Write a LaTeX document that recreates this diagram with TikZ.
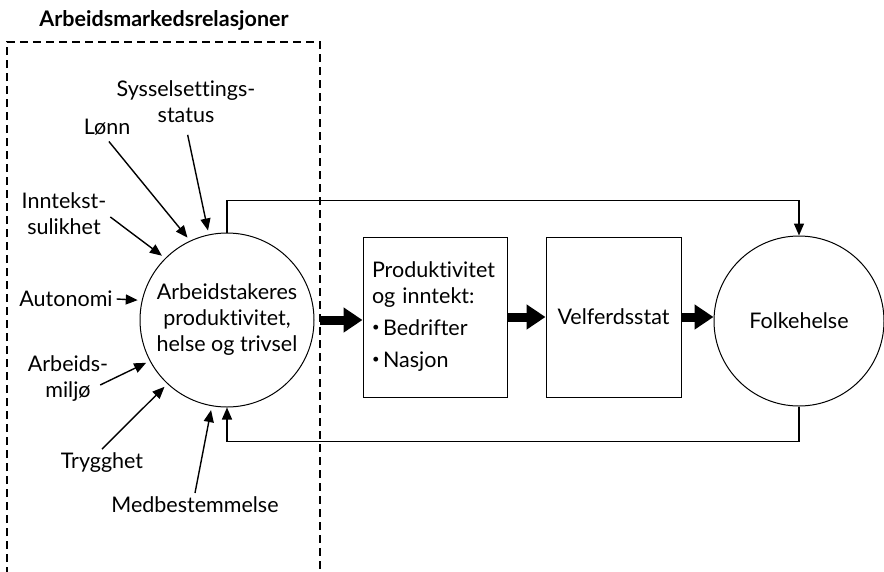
\documentclass[tikz,border=0pt]{standalone}
\usepackage{fontspec}
\setmainfont{Lato}[Ligatures=NoCommon]
\usetikzlibrary{arrows.meta}
\newcommand{\smallbullet}{\raisebox{4pt}{\fontsize{13}{13}\selectfont\textbullet}\,}

\begin{document}
\begin{tikzpicture}[x=1pt, y=-1pt, line width=1.4pt,
	every node/.style={font=\fontsize{21.5}{26}\selectfont, align=center},
	inArrow/.style={-{Triangle[length=12pt,width=10pt]}, shorten >=4pt},
	fatArrow/.style={line width=9pt, -{Triangle[length=19pt,width=24pt]}}]
	\useasboundingbox (0,0) rectangle (884,571);
	\node[font=\fontsize{21.5}{26}\selectfont\bfseries] (titleText) at (164,20) {Arbeidsmarkedsrelasjoner};
	\draw[dash pattern=on 8pt off 5pt] (7,575) |- (320,42) -- (320,575);
	\node[draw, circle, line width=1pt, minimum size=174pt, inner sep=0] (worker) at (227,320) {Arbeidstakeres\\produktivitet,\\helse og trivsel};
	\node[draw, line width=1pt, minimum height=160pt, text width=126pt, inner xsep=9pt, align=left] (prodBox) at (435,317) {Produktivitet\\og inntekt:\\[6pt]\smallbullet Bedrifter\\[6pt]\smallbullet Nasjon};
	\node[draw, line width=1pt, minimum width=135pt, minimum height=160pt] (welfareBox) at (613.5,317) {Velferdsstat};
	\node[draw, circle, line width=1pt, minimum size=170pt, inner sep=0] (publicHealth) at (799,321) {Folkehelse};
	% what goes into the worker circle
	\node (sysLabel) at (186,102) {Sysselsettings-\\status};
	\node (lonnLabel) at (107,127) {Lønn};
	\node (incomeLabel) at (64,214) {Inntekst-\\sulikhet};
	\node (autoLabel) at (66,299) {Autonomi};
	\node (envLabel) at (68,379) {Arbeids-\\miljø};
	\node (safeLabel) at (102,463) {Trygghet};
	\node (codetLabel) at (195,505) {Medbestemmelse};
	\draw[inArrow, shorten <=8pt] (sysLabel.south) -- (worker.102);
	\draw[inArrow, shorten <=3pt] (lonnLabel.south) -- (worker.115);
	\draw[inArrow] ([yshift=-3pt]incomeLabel.east) -- (worker.135);
	\draw[inArrow] (autoLabel.east) -- (worker.167);
	\draw[inArrow] ([xshift=-12pt,yshift=-6pt]envLabel.east) -- (worker.208);
	\draw[inArrow] (safeLabel.north) -- (worker.227);
	\draw[inArrow] (codetLabel.north) -- (worker.260);
	% main chain
	\draw[fatArrow, shorten <=5pt] (worker.east) -- (worker.east -| prodBox.west);
	\draw[fatArrow] (prodBox.east) -- (welfareBox.west);
	\draw[fatArrow] (welfareBox.east) -- (welfareBox.east -| publicHealth.west);
	% feedback
	\draw[inArrow, shorten >=0pt] (worker.north) -- ++(0,-32) -| (publicHealth.north);
	\draw[inArrow, shorten >=0pt] (publicHealth.south) -- ++(0,35) -| (worker.south);
\end{tikzpicture}
\end{document}
